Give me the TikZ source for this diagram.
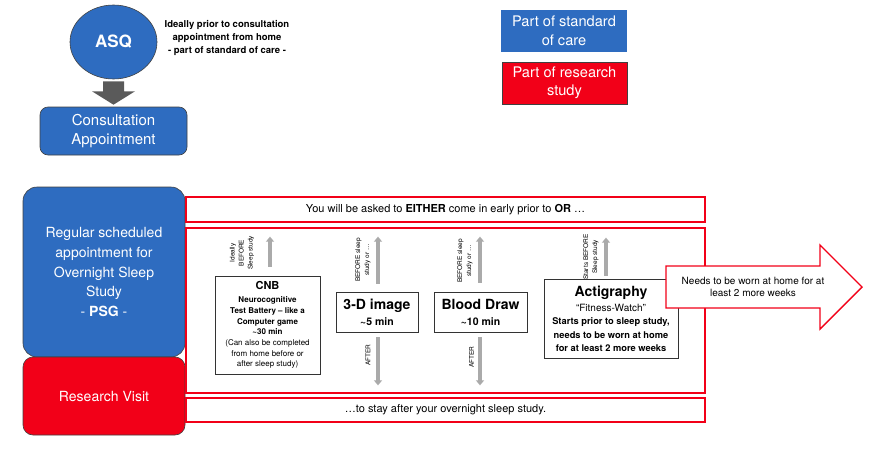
\documentclass[tikz,border=0pt]{standalone}
\usepackage{fontspec}
\setmainfont{TeX Gyre Heros}
\usetikzlibrary{arrows.meta,shapes.geometric,calc}
\definecolor{cblue}{RGB}{46,108,192}
\definecolor{cred}{RGB}{242,0,24}
\definecolor{agray}{RGB}{170,170,170}
\definecolor{dgray}{RGB}{90,90,90}
\tikzset{
  bluebox/.style={draw=black!75, fill=cblue, text=white, align=center, inner sep=0pt, line width=0.6pt},
  redbox/.style={draw=black!75, fill=cred, text=white, align=center, inner sep=0pt, line width=0.6pt},
  redframe/.style={draw=cred, line width=1.4pt, inner sep=0pt, align=center},
  whitebox/.style={draw=black!80, fill=white, line width=0.7pt, inner sep=0pt, align=center},
  garrow/.style={draw=agray, line width=3.5pt, -{Triangle[width=8pt,length=5pt]}},
  rotlbl/.style={rotate=90, align=center, inner sep=0pt, font=\fontsize{6.5}{9}\selectfont},
}
\begin{document}
\begin{tikzpicture}[x=1pt,y=-1pt]
\useasboundingbox (0,0) rectangle (873,466);

% top: ASQ and consultation
\node[bluebox, ellipse, minimum width=87pt, minimum height=74pt,
      font=\fontsize{17}{20}\selectfont\bfseries] (asq) at (113.5,42) {ASQ};
\node[bluebox, rounded corners=8pt, minimum width=147pt, minimum height=48pt,
      font=\fontsize{15}{19}\selectfont] (consult) at (113.5,131) {Consultation\\Appointment};
\fill[dgray] ($(asq.south)+(-10.5,2)$) -- ($(asq.south)+(10.5,2)$) -- ($(asq.south)+(10.5,12)$)
  -- ($(asq.south)+(21.5,12)$) -- ($(consult.north)+(0,-2)$) -- ($(asq.south)+(-21.5,12)$)
  -- ($(asq.south)+(-10.5,12)$) -- cycle;
\node[align=center, font=\fontsize{9.5}{12.8}\selectfont\bfseries] (ideal) at (227,38)
  {Ideally prior to consultation\\appointment from home\\- part of standard of care -};

% legend
\node[fill=cblue, text=white, align=center, inner sep=0pt, minimum width=126pt, minimum height=42pt,
      font=\fontsize{14.6}{19}\selectfont] (legstd) at (564,31) {Part of standard\\of care};
\node[redbox, minimum width=125pt, minimum height=42pt,
      font=\fontsize{14.6}{18}\selectfont] (legres) at (564.5,83) {Part of research\\study};

% left column
\node[bluebox, rounded corners=14pt, minimum width=162pt, minimum height=170pt,
      font=\fontsize{14}{19.6}\selectfont] (psg) at (104,272)
  {Regular scheduled\\appointment for\\Overnight Sleep\\Study\\- \textbf{PSG} -};
\node[redbox, rounded corners=10pt, minimum width=162pt, minimum height=78pt,
      font=\fontsize{14}{17}\selectfont] (visit) at (104,396) {Research Visit};

% red frames
\node[redframe, minimum width=519pt, minimum height=25pt, font=\fontsize{11}{13}\selectfont]
  (either) at (445.5,209.5) {You will be asked to \textbf{EITHER} come in early prior to \textbf{OR} …};
\node[redframe, minimum width=519pt, minimum height=165pt] (frame) at (445.5,310.5) {};
\node[redframe, minimum width=519pt, minimum height=24pt, font=\fontsize{11}{13}\selectfont]
  (after) at (445.5,410) {…to stay after your overnight sleep study.};

% activity boxes
\node[whitebox, minimum width=105pt, minimum height=98pt, font=\fontsize{8}{10.7}\selectfont] (cnb) at (267.5,325)
  {{\fontsize{11}{13}\selectfont\bfseries CNB}\\[2.3pt]
   \textbf{Neurocognitive}\\ \textbf{Test Battery – like a}\\ \textbf{Computer game}\\ \textbf{\textasciitilde30 min}\\
   (Can also be completed\\ from home before or\\ after sleep study)};
\node[whitebox, minimum width=82pt, minimum height=40pt, font=\fontsize{10.5}{16}\selectfont\bfseries] (img) at (377,312)
  {{\fontsize{14}{16}\selectfont 3-D image}\\ \textasciitilde5 min};
\node[whitebox, minimum width=93pt, minimum height=40pt, font=\fontsize{10.5}{16}\selectfont\bfseries] (blood) at (480.5,312)
  {{\fontsize{14}{16}\selectfont Blood Draw}\\ \textasciitilde10 min};
\node[whitebox, minimum width=134pt, minimum height=79pt, font=\fontsize{9.3}{13.2}\selectfont\bfseries] (acti) at (611,318.5)
  {{\fontsize{14}{16}\selectfont Actigraphy}\\[2.4pt]
   {\mdseries\fontsize{10}{12}\selectfont “Fitness-Watch”}\\
   Starts prior to sleep study,\\ needs to be worn at home\\ for at least 2 more weeks};

% gray arrows
\draw[garrow] ($(cnb.north)+(2.5,-9)$) -- ($(cnb.north)+(2.5,-39)$);
\draw[garrow] ($(img.north)+(1,-8)$) -- ($(img.north)+(1,-55)$);
\draw[garrow] ($(img.south)+(1,5)$) -- ($(img.south)+(1,53)$);
\draw[garrow] ($(blood.north)+(-0.5,-9)$) -- ($(blood.north)+(-0.5,-55)$);
\draw[garrow] ($(blood.south)+(-0.5,5)$) -- ($(blood.south)+(-0.5,53)$);
\draw[garrow] ($(acti.north)+(-5,-3)$) -- ($(acti.north)+(-5,-41)$);

% rotated labels
\node[rotlbl] (lcnb) at (242,253) {Ideally\\BEFORE\\Sleep study};
\node[rotlbl] (limg) at (363,260) {BEFORE sleep\\study or …};
\node[rotlbl] (limga) at (368,355) {AFTER};
\node[rotlbl] (lblood) at (465,261) {BEFORE sleep\\study or …};
\node[rotlbl] (lblooda) at (471.5,357) {AFTER};
\node[rotlbl] (lacti) at (591,257) {Starts BEFORE\\Sleep study};

% big arrow
\filldraw[fill=white, draw=cred, line width=1.4pt, line join=miter]
  (666,266) -- (820,266) -- (820,245) -- (862,287) -- (820,329) -- (820,308) -- (666,308) -- cycle;
\node[align=center, font=\fontsize{10}{12}\selectfont] (needs) at (753,287)
  {Needs to be worn at home for at\\least 2 more weeks};
\end{tikzpicture}
\end{document}
